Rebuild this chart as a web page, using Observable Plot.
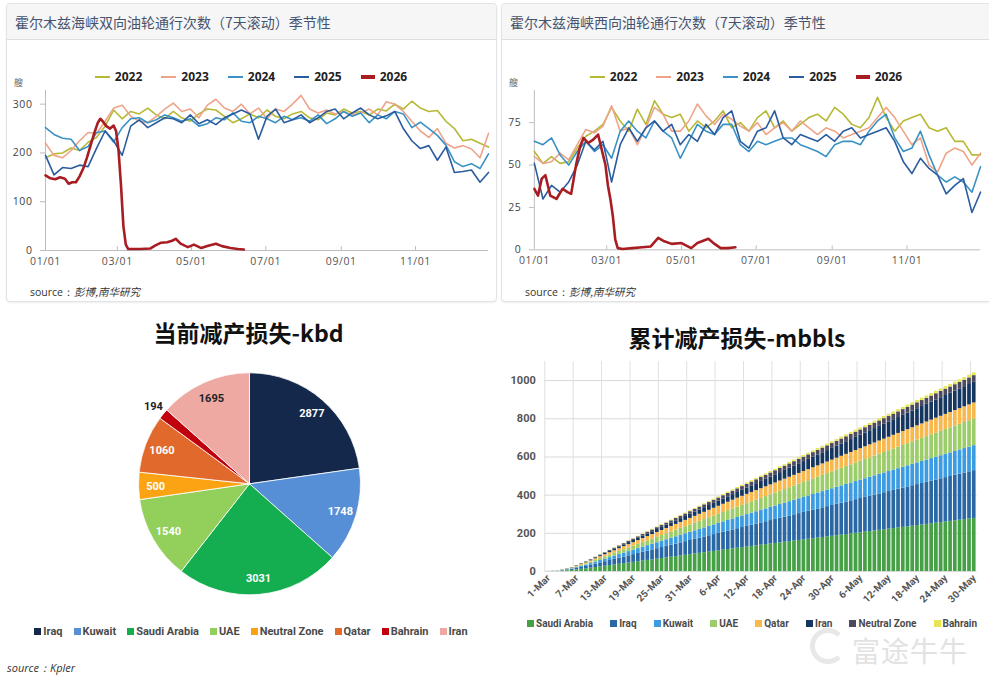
<!DOCTYPE html>
<html>
<head>
<meta charset="utf-8">
<script src="https://cdn.jsdelivr.net/npm/d3@7"></script>
<script src="https://cdn.jsdelivr.net/npm/@observablehq/plot@0.6"></script>
<style>
  body { margin: 0; background: #fff; }
  #page { position: relative; width: 989px; height: 679px; overflow: hidden; background: #fff;
          font-family: "Open Sans", "Noto Sans CJK SC", sans-serif; }
  .card { position: absolute; top: 3px; height: 299px; border: 1px solid #e3e3e3; border-radius: 4px;
          box-shadow: 0 1px 2px rgba(0,0,0,0.07); background: #fff; box-sizing: border-box; }
  .card .hd { height: 35px; background: #f6f6f6; border-bottom: 1px solid #dedede; border-radius: 4px 4px 0 0;
              font: 14px "Noto Sans CJK SC", sans-serif; color: #45536f; line-height: 36px; padding-left: 8px; }
  .lg { position: absolute; top: 68px; display: flex; gap: 19px; font: bold 12px "Open Sans", sans-serif; color: #222; }
  .lg .it { display: flex; align-items: center; }
  .lg .sw { display: inline-block; width: 15px; height: 2px; margin-right: 5px; }
  .unit { position: absolute; top: 76px; font: 9px "Noto Sans CJK SC", sans-serif; color: #666; }
  .src { position: absolute; top: 284px; font: 10.5px "Open Sans", sans-serif; color: #333; }
  .src i { font-family: "Noto Sans CJK SC", sans-serif; }
  .chart { position: absolute; }
  .ttl { position: absolute; font: bold 23px "Noto Sans CJK SC", sans-serif; color: #111; text-align: center; white-space: nowrap; }
  .plg { position: absolute; display: flex; font: bold 11px Roboto, sans-serif; color: #4a4a4a; white-space: nowrap; }
  .plg .it { display: flex; align-items: center; }
  .plg .sq { display: inline-block; width: 7px; height: 7px; margin-right: 2px; }
  .bsrc { position: absolute; left: 7px; top: 660px; font: italic 11px "Open Sans", sans-serif; color: #333; }
  .wm { position: absolute; left: 852px; top: 630px; font: 28px "Noto Sans CJK SC", sans-serif; color: #e2e2e2; letter-spacing: 1px; }
  .wmi { position: absolute; left: 810px; top: 628px; width: 26px; height: 26px; border: 5px solid #e8e8e8; border-radius: 50%; border-right-color: transparent; }
</style>
</head>
<body>
<div id="page"></div>
<script>
// ---------- Hormuz tanker transits, 7-day rolling count (weekly readings from 1 Jan) ----------
const seasonYears  = ["2022", "2023", "2024", "2025", "2026"];
const seasonColors = ["#b6b935", "#eea489", "#3a92c4", "#2a5c9f", "#a81d22"];
const monthTicks   = ["01/01", "03/01", "05/01", "07/01", "09/01", "11/01"];

// both directions (ships)
const both2022 = [190,198,200,210,205,222,232,255,288,270,285,280,292,278,270,285,272,265,280,290,288,275,262,270,280,272,288,275,270,280,285,272,268,282,278,290,282,285,278,290,286,300,290,306,292,285,287,265,250,225,228,220,212];
const both2023 = [220,195,190,205,225,242,240,265,292,298,275,265,262,275,290,302,285,290,272,298,310,292,285,300,280,292,270,290,285,300,318,290,282,288,280,285,278,282,290,278,305,300,285,265,245,232,250,220,210,215,208,190,240];
const both2024 = [252,238,230,228,205,213,242,245,222,252,270,272,262,268,278,272,265,270,255,260,272,268,282,265,262,275,270,262,275,268,272,265,278,260,270,285,275,282,262,278,270,285,280,252,263,250,236,216,182,172,178,168,198];
const both2025 = [195,155,170,168,175,172,210,245,225,195,255,268,252,262,272,270,262,278,260,268,258,272,280,288,280,228,275,290,262,268,278,262,272,285,290,270,282,292,278,270,276,285,250,225,209,215,185,212,160,162,165,140,160];
const both2026Days = [0,4,8,12,16,19,22,25,28,31,34,37,40,43,45,47,50,53,56,58,60,62,64,66,68,72,78,86,90,95,100,104,107,111,117,122,128,133,140,145,152,158,163];
const both2026     = [154,148,146,150,147,137,140,140,152,168,190,215,240,262,270,265,255,250,256,245,205,135,50,12,3,3,3,4,10,16,17,20,24,14,7,12,5,9,14,9,5,3,2];

// westbound (ships)
const west2022 = [58,51,55,51,52,60,67,70,74,84,76,70,83,74,88,80,78,80,70,76,72,76,82,72,75,70,78,82,72,76,70,74,78,80,76,84,80,74,72,78,90,78,70,76,78,80,72,70,72,64,64,56,56];
const west2023 = [55,51,52,57,53,62,71,69,73,85,70,72,62,72,84,80,70,70,76,86,79,74,80,77,73,70,75,68,72,75,70,76,72,68,72,70,66,68,70,72,78,84,78,70,62,66,50,46,57,60,58,50,57];
const west2024 = [64,62,66,56,50,58,64,58,62,54,70,76,70,66,76,70,66,54,64,74,70,68,74,74,62,58,64,62,64,66,66,62,60,58,55,62,64,64,62,70,76,80,66,58,60,70,56,44,40,43,40,34,49];
const west2025 = [51,30,38,34,40,50,64,59,64,40,62,72,64,72,76,70,74,62,68,64,74,68,78,82,64,60,70,72,82,66,62,68,66,64,68,64,70,72,66,68,70,72,64,52,45,54,48,44,33,38,42,22,34];
const west2026Days = [0,3,6,9,13,18,23,27,30,34,37,40,44,48,52,54,56,58,60,62,64,66,68,72,80,88,95,101,106,112,120,128,133,142,147,152,158,164];
const west2026     = [36,32,42,44,32,30,36,34,33,50,60,66,63,65,68,62,56,50,38,30,20,6,1,0.5,1,1.5,2,7,5,3.5,4,1,4,6.5,3.5,1,1,1.5];

// ---------- current output loss by producer (kbd) ----------
const lossCountries = ["Iraq", "Kuwait", "Saudi Arabia", "UAE", "Neutral Zone", "Qatar", "Bahrain", "Iran"];
const lossKbd       = [2877, 1748, 3031, 1540, 500, 1060, 194, 1695];
const lossColors    = ["#14284b", "#568fd6", "#14ad4f", "#93cf5b", "#fca314", "#e1692b", "#c1000e", "#eea9a3"];

// ---------- cumulative loss (mbbls): daily loss rate per producer (kbd) by phase ----------
const cumCountries = ["Saudi Arabia", "Iraq", "Kuwait", "UAE", "Qatar", "Iran", "Neutral Zone", "Bahrain"];
const cumColors    = ["#46a046", "#2a67a5", "#3c9ce2", "#9dcd6b", "#f8b84c", "#15365f", "#4c4a5e", "#e8e553"];
const phaseStarts  = ["03-01", "03-04", "03-07", "03-10", "03-13", "04-11"];
const rateSaudi    = [280, 1680, 2800, 3360, 3370, 3120];
const rateIraq     = [240, 1440, 2400, 2880, 2800, 2960];
const rateKuwait   = [140, 840, 1400, 1680, 1610, 1440];
const rateUAE      = [120, 720, 1200, 1440, 1500, 1720];
const rateQatar    = [110, 660, 1100, 1320, 1290, 740];
const rateIran     = [60, 360, 600, 720, 860, 1560];
const rateNeutral  = [40, 240, 400, 480, 530, 320];
const rateBahrain  = [10, 60, 100, 120, 210, 140];
const cumFirstDay  = "03-01";
const cumLastDay   = "05-30";
const cumTickLabels = ["1-Mar","7-Mar","13-Mar","19-Mar","25-Mar","31-Mar","6-Apr","12-Apr","18-Apr","24-Apr","30-Apr","6-May","12-May","18-May","24-May","30-May"];
const cumYTicks    = [0, 200, 400, 600, 800, 1000];

// ================================================================
const page = document.getElementById("page");
const DAY = 864e5;
const Y0 = Date.UTC(2026, 0, 1);
const md = s => { const [m, d] = s.split(/[-\/]/).map(Number); return Date.UTC(2026, m - 1, d); };

function el(tag, cls, css, html) {
  const e = document.createElement(tag);
  if (cls) e.className = cls;
  if (css) Object.assign(e.style, css);
  if (html != null) e.innerHTML = html;
  page.appendChild(e);
  return e;
}

// ---------- seasonal line panels ----------
const tickDates = monthTicks.map(t => new Date(md(t)));
const tickLabel = new Map(tickDates.map((d, i) => [+d, monthTicks[i]]));

function seasonPanel({left, width, title, weeklySeries, days26, vals26, yMax, yTicks, plotLeft, plotRight, tickLen}) {
  const card = el("div", "card", {left: left + "px", width: width + "px"});
  const hd = document.createElement("div"); hd.className = "hd"; hd.textContent = title; card.appendChild(hd);

  // legend
  const lg = el("div", "lg", {left: left + "px", width: "490px", justifyContent: "center"});
  seasonYears.forEach((y, i) => {
    const it = document.createElement("div"); it.className = "it";
    const sw = document.createElement("span"); sw.className = "sw";
    sw.style.background = seasonColors[i];
    if (y === "2026") { sw.style.height = "4px"; sw.style.width = "14px"; }
    it.appendChild(sw); it.appendChild(document.createTextNode(y)); lg.appendChild(it);
  });
  el("div", "unit", {left: (left + 8) + "px"}, "艘");
  el("div", "src", {left: (left + 24) + "px"}, "source：<i>彭博,南华研究</i>");

  const rows = [];
  weeklySeries.forEach((vals, j) => vals.forEach((v, i) => rows.push({date: new Date(Y0 + i * 7 * DAY), value: v, year: seasonYears[j]})));
  const red = days26.map((d, i) => ({date: new Date(Y0 + d * DAY), value: vals26[i], year: "2026"}));

  const svg = Plot.plot({
    width: 490, height: 190,
    marginLeft: plotLeft - left, marginRight: left + 490 - plotRight, marginTop: 5, marginBottom: 25,
    style: {fontFamily: "'Open Sans', sans-serif", fontSize: "10.5px", letterSpacing: "0.6px", background: "transparent"},
    x: {type: "utc", domain: [new Date(Y0), new Date(Y0 + 364 * DAY)]},
    y: {domain: [0, yMax]},
    color: {domain: seasonYears, range: seasonColors},
    marks: [
      Plot.ruleY([0], {stroke: "#bcbcbc"}),
      Plot.ruleX([new Date(Y0)], {stroke: "#bcbcbc"}),
      Plot.axisY({ticks: yTicks, tickSize: 5, tickPadding: 8, stroke: "#bcbcbc", fill: "#444", label: null}),
      Plot.axisX({ticks: tickDates, tickFormat: d => tickLabel.get(+d), tickSize: 0, tickPadding: 7, fill: "#555", label: null}),
      Plot.ruleX(tickDates.slice(1), {y1: 0, y2: tickLen, stroke: "#bcbcbc"}),
      Plot.line(rows, {x: "date", y: "value", z: "year", stroke: "year", strokeWidth: 1.6}),
      Plot.line(red, {x: "date", y: "value", stroke: "year", strokeWidth: 2.6})
    ]
  });
  const holder = el("div", "chart", {left: left + "px", top: "85px"});
  holder.appendChild(svg);
}

seasonPanel({
  left: 6, width: 491, title: "霍尔木兹海峡双向油轮通行次数（7天滚动）季节性",
  weeklySeries: [both2022, both2023, both2024, both2025], days26: both2026Days, vals26: both2026,
  yMax: 328, yTicks: [0, 100, 200, 300], plotLeft: 45, plotRight: 488, tickLen: 8
});
seasonPanel({
  left: 501, width: 494, title: "霍尔木兹海峡西向油轮通行次数（7天滚动）季节性",
  weeklySeries: [west2022, west2023, west2024, west2025], days26: west2026Days, vals26: west2026,
  yMax: 94, yTicks: [0, 25, 50, 75], plotLeft: 534, plotRight: 982, tickLen: 2.3
});

// ---------- pie: current loss (kbd) ----------
el("div", "ttl", {left: "0px", width: "497px", top: "315px"}, "当前减产损失-kbd");
{
  const pieColor = Plot.scale({color: {type: "ordinal", domain: lossCountries, range: lossColors}});
  const pieRows = lossCountries.map((c, i) => ({country: c, value: lossKbd[i]}));
  const arcs = d3.pie().sort(null).value(d => d.value)(pieRows);
  const cx = 249.5, cy = 127.8, R = 111;
  const arcGen = d3.arc().innerRadius(0).outerRadius(R);
  const outside = new Set(["Bahrain"]);
  const darkText = new Set(["Bahrain", "Iran"]);
  const labels = arcs.map(a => {
    const r = outside.has(a.data.country) ? R * 1.12 : R * 0.85;
    const ang = (a.startAngle + a.endAngle) / 2;
    return {x: cx + r * Math.sin(ang), y: cy - r * Math.cos(ang), text: String(a.data.value),
            fill: darkText.has(a.data.country) ? "#222" : "#fff"};
  });
  const wedges = () => {
    const g = d3.create("svg:g").attr("transform", `translate(${cx},${cy})`);
    g.selectAll("path").data(arcs).join("path")
      .attr("d", arcGen).attr("fill", d => pieColor.apply(d.data.country))
      .attr("stroke", "#fff").attr("stroke-width", 0.8);
    return g.node();
  };
  const svg = Plot.plot({
    width: 500, height: 250, margin: 0,
    x: {type: "identity", axis: null}, y: {type: "identity", axis: null},
    style: {fontFamily: "Roboto, sans-serif"},
    marks: [
      wedges,
      Plot.text(labels, {x: "x", y: "y", text: "text", fill: "fill", fontSize: 11, fontWeight: "bold"})
    ]
  });
  el("div", "chart", {left: "0px", top: "356px"}).appendChild(svg);

  const lg = el("div", "plg", {left: "0px", width: "502px", top: "625px", justifyContent: "center", gap: "11px"});
  lossCountries.forEach((c, i) => {
    const it = document.createElement("div"); it.className = "it";
    const sq = document.createElement("span"); sq.className = "sq"; sq.style.background = lossColors[i];
    it.appendChild(sq); it.appendChild(document.createTextNode(c)); lg.appendChild(it);
  });
  el("div", "bsrc", null, "source：Kpler");
}

// ---------- stacked bars: cumulative loss (mbbls) ----------
el("div", "ttl", {left: "495px", width: "484px", top: "320px"}, "累计减产损失-mbbls");
{
  const rates = [rateSaudi, rateIraq, rateKuwait, rateUAE, rateQatar, rateIran, rateNeutral, rateBahrain];
  const phaseT = phaseStarts.map(md);
  const t0 = md(cumFirstDay), nDays = Math.round((md(cumLastDay) - t0) / DAY) + 1;
  const cum = cumCountries.map(() => 0);
  const rows = [];
  for (let k = 0; k < nDays; k++) {
    const t = t0 + k * DAY;
    let p = 0; while (p + 1 < phaseT.length && phaseT[p + 1] <= t) p++;
    let base = 0;
    cumCountries.forEach((c, j) => {
      cum[j] += rates[j][p] / 1000;
      rows.push({k, country: c, y1: base, y2: base + cum[j]});
      base += cum[j];
    });
  }
  const fmtKey = t => { const d = new Date(t); return d.getUTCDate() + "-" + d3.utcFormat("%b")(d); };
  const keyIndex = new Map(d3.range(nDays).map(k => [fmtKey(t0 + k * DAY), k]));
  const tickIdx = cumTickLabels.map(l => keyIndex.get(l));
  const idxLabel = new Map(tickIdx.map((k, i) => [k, cumTickLabels[i]]));

  const svg = Plot.plot({
    width: 494, height: 255, marginLeft: 49.3, marginRight: 12.3, marginTop: 6, marginBottom: 39,
    style: {fontFamily: "Roboto, sans-serif", background: "transparent"},
    x: {domain: [-0.78, nDays - 1 + 0.63]},
    y: {domain: [0, 1100]},
    color: {domain: cumCountries, range: cumColors},
    marks: [
      Plot.gridY({ticks: cumYTicks, stroke: "#dadada", strokeOpacity: 1}),
      Plot.ruleX(tickIdx.map(k => k - 0.78), {stroke: "#e0e0e0"}),
      Plot.rect(rows, {x1: d => d.k - 0.39, x2: d => d.k + 0.39, y1: "y1", y2: "y2", fill: "country"}),
      Plot.axisY({ticks: cumYTicks, tickFormat: d => String(d), tickSize: 0, tickPadding: 9, fill: "#555", fontWeight: "bold", fontSize: 11, label: null}),
      Plot.axisX({ticks: tickIdx, tickFormat: k => idxLabel.get(k), tickSize: 0, tickPadding: 5,
                  tickRotate: -45, fill: "#555", fontWeight: "bold", fontSize: 10, label: null})
    ]
  });
  el("div", "chart", {left: "495px", top: "355px"}).appendChild(svg);

  const lg = el("div", "plg", {left: "527px", width: "450px", top: "618px", justifyContent: "space-between", fontSize: "10px"});
  cumCountries.forEach((c, i) => {
    const it = document.createElement("div"); it.className = "it";
    const sq = document.createElement("span"); sq.className = "sq"; sq.style.background = cumColors[i];
    it.appendChild(sq); it.appendChild(document.createTextNode(c)); lg.appendChild(it);
  });
  el("div", "wmi");
  el("div", "wm", null, "富途牛牛");
}
</script>
</body>
</html>
